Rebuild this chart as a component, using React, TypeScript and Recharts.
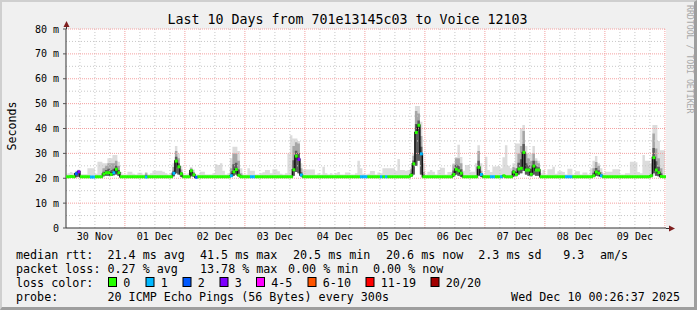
import { ComposedChart, Area, Line, XAxis, YAxis, CartesianGrid, ReferenceLine } from 'recharts';

// x values are hours since 30 Nov 00:00, one step per hour (h = 0..240)
const dayLabels = ['30 Nov', '01 Dec', '02 Dec', '03 Dec', '04 Dec', '05 Dec', '06 Dec', '07 Dec', '08 Dec', '09 Dec'];
const labelHours = [12, 36, 60, 84, 108, 132, 156, 180, 204, 228];
const yTicks = [0, 10, 20, 30, 40, 50, 60, 70, 80];

// median rtt in ms, one row per day
const medianRtt = [
  20.6, 20.6, 20.7, 20.6, 21.8, 22.6, 20.6, 20.6, 20.6, 20.6, 20.5, 20.5, 20.6, 20.6, 20.6, 21.7, 22.2, 22.2, 21.5, 22.2, 23.6, 22.2, 20.6, 20.6,
  20.6, 20.6, 20.6, 20.6, 20.6, 20.6, 20.6, 20.6, 20.5, 20.6, 20.6, 20.6, 20.6, 20.6, 20.6, 20.6, 20.6, 20.6, 20.6, 22.0, 26.9, 24.6, 21.8, 20.6,
  20.6, 20.6, 23.0, 21.4, 20.4, 20.6, 20.6, 20.6, 20.6, 20.6, 20.6, 20.6, 20.6, 20.6, 20.6, 20.6, 20.6, 20.6, 21.0, 22.6, 23.5, 21.2, 20.6, 20.6,
  20.6, 20.6, 20.6, 20.6, 20.6, 20.6, 20.6, 20.6, 20.6, 20.6, 20.6, 20.6, 20.6, 20.6, 20.6, 20.6, 20.6, 20.6, 20.6, 23.4, 28.9, 27.6, 21.3, 20.6,
  20.6, 20.6, 20.6, 20.6, 20.6, 20.6, 20.6, 20.6, 20.6, 20.6, 20.6, 20.6, 20.6, 20.6, 20.6, 20.6, 20.6, 20.6, 20.6, 20.6, 20.6, 20.6, 20.6, 20.6,
  20.6, 20.6, 20.6, 20.6, 20.6, 20.6, 20.6, 20.6, 20.6, 20.6, 20.6, 20.6, 20.6, 20.6, 20.6, 20.6, 20.6, 20.6, 21.2, 25.8, 38.4, 41.3, 29.8, 20.6,
  20.6, 20.6, 20.6, 20.6, 20.6, 20.6, 20.6, 20.6, 20.6, 20.6, 20.6, 21.5, 23.6, 23.0, 22.0, 20.6, 20.6, 20.6, 20.6, 20.6, 20.6, 24.4, 21.5, 20.6,
  20.6, 20.6, 20.6, 20.6, 20.6, 20.6, 20.6, 21.0, 20.6, 20.6, 20.6, 22.5, 21.5, 23.7, 24.0, 30.4, 23.3, 23.3, 21.6, 24.9, 23.3, 23.3, 20.6, 20.6,
  20.6, 20.6, 20.6, 20.6, 20.6, 20.6, 20.6, 20.6, 20.6, 20.6, 20.6, 20.6, 20.6, 20.6, 20.6, 20.6, 20.6, 20.6, 20.6, 21.0, 22.5, 22.0, 21.0, 20.6,
  20.6, 20.6, 20.6, 20.6, 20.6, 20.6, 20.6, 20.6, 20.6, 20.6, 20.6, 20.6, 20.6, 20.6, 20.6, 20.6, 20.6, 20.6, 21.0, 28.3, 23.3, 22.3, 20.7, 20.6,
  20.6,
];

// lost pings out of 20
const lossCount = [
  0, 0, 0, 0, 2, 3, 0, 0, 0, 0, 1, 1, 0, 0, 0, 0, 0, 0, 0, 1, 0, 0, 0, 0,
  0, 0, 0, 0, 0, 0, 0, 0, 1, 0, 0, 0, 0, 0, 0, 0, 0, 0, 0, 1, 0, 0, 0, 0,
  0, 0, 0, 0, 2, 0, 0, 0, 0, 0, 0, 0, 0, 0, 0, 0, 0, 0, 1, 0, 0, 0, 0, 0,
  0, 0, 1, 1, 0, 0, 0, 0, 0, 0, 0, 0, 0, 0, 0, 0, 0, 0, 0, 0, 0, 3, 1, 0,
  0, 0, 0, 0, 0, 0, 0, 0, 0, 0, 0, 0, 0, 0, 0, 0, 0, 0, 0, 0, 0, 0, 1, 1,
  1, 0, 0, 0, 0, 0, 1, 0, 1, 0, 0, 0, 0, 0, 0, 0, 0, 0, 0, 0, 0, 0, 1, 0,
  0, 0, 0, 0, 0, 0, 0, 0, 0, 0, 0, 0, 0, 0, 0, 0, 0, 0, 0, 0, 0, 0, 1, 0,
  0, 0, 1, 1, 0, 0, 1, 0, 0, 0, 0, 0, 0, 0, 0, 0, 0, 0, 0, 0, 0, 0, 0, 0,
  0, 0, 0, 0, 0, 0, 0, 0, 1, 1, 1, 0, 0, 0, 0, 0, 0, 0, 0, 0, 0, 0, 1, 0,
  0, 0, 0, 0, 0, 0, 0, 0, 0, 0, 0, 0, 0, 0, 0, 0, 0, 0, 0, 0, 0, 0, 0, 0,
  0,
];

// slowest ping of each step (outer smoke)
const maxRtt = [
  21.5, 22.0, 22.5, 22.0, 23.0, 23.5, 21.6, 21.6, 21.6, 24.0, 24.0, 24.0, 21.8, 26.6, 26.6, 26.0, 26.0, 28.0, 28.0, 29.3, 29.3, 26.6, 22.5, 21.5,
  21.5, 22.6, 22.6, 21.8, 21.5, 22.2, 22.2, 21.5, 22.5, 21.5, 22.0, 23.0, 23.0, 23.0, 23.0, 22.6, 22.0, 21.5, 22.0, 26.0, 33.0, 30.0, 25.0, 21.5,
  21.5, 22.0, 24.5, 23.5, 21.5, 21.5, 22.6, 22.6, 21.5, 21.5, 21.5, 22.0, 25.6, 25.3, 26.0, 23.0, 21.5, 22.0, 28.0, 32.7, 32.7, 31.0, 24.0, 21.5,
  21.5, 24.0, 23.0, 23.0, 21.5, 21.5, 22.0, 22.4, 23.3, 23.3, 22.0, 23.6, 23.6, 22.8, 21.8, 21.5, 22.0, 30.0, 37.3, 36.0, 36.0, 35.0, 26.0, 23.5,
  23.5, 23.5, 23.5, 23.5, 21.5, 22.0, 21.5, 24.6, 22.0, 21.5, 22.0, 21.5, 22.0, 22.5, 21.5, 21.5, 22.3, 22.3, 21.5, 21.5, 22.0, 27.0, 24.0, 21.8,
  21.5, 21.8, 22.9, 22.9, 21.5, 22.3, 22.0, 24.0, 24.0, 24.0, 24.0, 24.0, 23.0, 27.7, 23.3, 23.3, 23.0, 23.3, 24.0, 30.0, 49.0, 49.0, 42.7, 26.0,
  21.5, 22.6, 23.3, 22.6, 21.5, 23.3, 24.2, 24.2, 21.5, 22.5, 22.5, 26.0, 28.5, 33.5, 28.5, 23.0, 25.3, 25.3, 22.6, 22.6, 26.0, 33.3, 26.0, 21.5,
  28.6, 23.3, 22.5, 24.7, 24.7, 24.9, 24.0, 28.4, 33.3, 25.0, 24.0, 26.0, 34.0, 34.0, 40.0, 41.4, 33.0, 30.0, 30.0, 33.0, 28.0, 27.0, 22.0, 23.3,
  21.5, 23.6, 23.6, 24.6, 21.8, 22.8, 22.8, 22.5, 21.5, 23.8, 23.8, 21.5, 22.8, 22.8, 21.5, 22.3, 22.3, 21.5, 24.0, 27.0, 28.9, 26.0, 24.0, 22.0,
  22.6, 22.6, 22.6, 23.6, 23.6, 23.6, 21.5, 21.5, 22.0, 22.0, 26.6, 26.6, 26.4, 22.5, 22.0, 29.3, 27.0, 27.0, 26.0, 41.4, 41.4, 35.0, 31.3, 31.3,
  31.3,
];

// dense smoke around the median on the busier steps
const coreHours = [4, 5, 15, 16, 17, 18, 19, 20, 21, 32, 43, 44, 45, 46, 50, 51, 66, 67, 68, 69, 70, 91, 92, 93, 94, 138, 139, 140, 141, 142, 143, 155, 156, 157, 158, 165, 166, 179, 180, 181, 182, 183, 184, 185, 186, 187, 188, 189, 211, 212, 213, 214, 235, 236, 237, 238];
const coreLow = [20.4, 20.6, 20.8, 21.0, 21.0, 21.0, 21.2, 21.5, 21.0, 20.6, 20.8, 22.0, 21.5, 20.6, 20.8, 20.6, 20.6, 21.0, 21.5, 20.8, 20.6, 21.0, 22.5, 22.0, 20.8, 20.6, 21.5, 25.0, 27.0, 21.5, 20.6, 20.6, 21.5, 21.0, 20.6, 21.0, 20.6, 20.6, 20.8, 21.5, 22.0, 23.0, 21.5, 21.0, 20.8, 21.5, 21.0, 21.0, 20.6, 21.0, 20.8, 20.6, 22.0, 21.0, 20.8, 20.6];
const coreHigh = [22.5, 23.2, 24.0, 25.0, 26.0, 26.0, 26.0, 27.0, 25.0, 22.0, 24.5, 31.0, 28.0, 23.5, 24.0, 22.5, 24.0, 30.0, 30.0, 27.0, 22.0, 33.0, 34.5, 34.0, 24.0, 23.5, 29.0, 47.0, 46.0, 37.0, 22.5, 25.5, 28.0, 28.0, 26.0, 31.0, 23.0, 24.5, 24.0, 30.0, 33.0, 39.0, 30.0, 28.0, 27.0, 30.0, 27.0, 26.0, 24.0, 26.5, 25.0, 22.5, 38.0, 32.0, 28.0, 24.0];
const innerHigh = [22.2, 23.0, 22.6, 23.3, 23.8, 23.3, 23.8, 25.0, 23.3, 21.2, 23.0, 28.6, 26.0, 22.5, 23.5, 21.9, 22.2, 25.6, 26.2, 23.5, 21.2, 27.2, 31.1, 30.2, 22.4, 22.1, 27.1, 41.8, 43.2, 32.7, 21.4, 23.1, 25.4, 25.0, 23.6, 27.0, 22.1, 23.3, 22.5, 26.2, 27.6, 33.8, 26.0, 25.2, 23.8, 27.0, 24.8, 24.4, 22.2, 24.1, 23.2, 21.6, 32.2, 26.8, 24.6, 22.0];

const SMOKE_FLOOR = 20.2;
const STEP_PX = 2.5;

const lossBuckets = [
  { label: '0', color: '#26ff00', x: 108 },
  { label: '1', color: '#00b8ff', x: 145.5 },
  { label: '2', color: '#0059ff', x: 182.5 },
  { label: '3', color: '#7e00ff', x: 219.5 },
  { label: '4-5', color: '#ff00ff', x: 256 },
  { label: '6-10', color: '#ff5500', x: 307.5 },
  { label: '11-19', color: '#ff0000', x: 365.5 },
  { label: '20/20', color: '#a10000', x: 430.5 },
];

const lossColor = (n: number) => {
  if (n <= 0) return lossBuckets[0].color;
  if (n <= 3) return lossBuckets[n].color;
  if (n <= 5) return lossBuckets[4].color;
  if (n <= 10) return lossBuckets[5].color;
  if (n <= 19) return lossBuckets[6].color;
  return lossBuckets[7].color;
};

const data = medianRtt.map((m, h) => {
  const ci = coreHours.indexOf(h);
  return {
    h,
    median: m,
    loss: lossCount[h],
    smoke: [ci >= 0 ? coreLow[ci] : SMOKE_FLOOR, maxRtt[h]],
    core: ci >= 0 ? [coreLow[ci], coreHigh[ci]] : [m, m],
    inner: ci >= 0 ? [coreLow[ci], innerHigh[ci]] : [m, m],
  };
});

const gridHours = Array.from({ length: 40 }, (_, i) => (i + 1) * 6);
const gridValues = [5, 10, 15, 20, 25, 30, 35, 40, 45, 50, 55, 60, 65, 70, 75, 80];

const MONO = 'DejaVu Sans Mono';
const tickStyle = { fontFamily: MONO, fontSize: 10, fill: '#000' };

const LossDot = (p: any) => {
  const { cx, cy, payload, index } = p;
  if (cx == null || cy == null) return <g key={`d${index}`} />;
  return (
    <rect key={`d${index}`} x={cx} y={cy - 1.5} width={STEP_PX + 0.4} height={3} fill={lossColor(payload.loss)} />
  );
};

const Overlay = () => (
  <svg width={697} height={310} style={{ position: 'absolute', left: 0, top: 0, pointerEvents: 'none' }} fontFamily={MONO}>
    {/* axis extensions and arrows */}
    <line x1={66.5} y1={24} x2={66.5} y2={29} stroke="#333" />
    <polygon points="63.5,27 69.5,27 66.5,21" fill="#7f1f1f" />
    <line x1={666} y1={228.5} x2={671} y2={228.5} stroke="#333" />
    <polygon points="669,225.5 669,231.5 675,228.5" fill="#7f1f1f" />

    <text x={347.5} y={24} fontSize={13.3} textAnchor="middle">Last 10 Days from 701e13145c03 to Voice 12103</text>
    <text transform="translate(15.5,126) rotate(-90)" fontSize={11.6} textAnchor="middle">Seconds</text>
    <text transform="translate(687,5) rotate(90)" fontSize={8.2} fill="#a8a8a8">RRDTOOL / TOBI OETIKER</text>

    <g fontSize={11.7} style={{ whiteSpace: 'pre' }}>
      <text x={16} y={258.5}>median rtt:</text>
      <text x={107.5} y={258.5}>21.4 ms avg</text>
      <text x={200} y={258.5}>41.5 ms max</text>
      <text x={293} y={258.5}>20.5 ms min</text>
      <text x={386} y={258.5}>20.6 ms now</text>
      <text x={478.3} y={258.5}>2.3 ms sd</text>
      <text x={563.3} y={258.5}>9.3</text>
      <text x={600} y={258.5}>am/s</text>

      <text x={16} y={272.5}>packet loss:</text>
      <text x={107.5} y={272.5}>0.27 % avg</text>
      <text x={200} y={272.5}>13.78 % max</text>
      <text x={288} y={272.5}>0.00 % min</text>
      <text x={373} y={272.5}>0.00 % now</text>

      <text x={16} y={286.5}>loss color:</text>
      {lossBuckets.map((b) => (
        <g key={b.label}>
          <rect x={b.x + 0.5} y={277.5} width={8} height={9} fill={b.color} stroke="#000" />
          <text x={b.x + 15.3} y={286.5}>{b.label}</text>
        </g>
      ))}

      <text x={16} y={300.5}>probe:</text>
      <text x={107.5} y={300.5}>20 ICMP Echo Pings (56 Bytes) every 300s</text>
      <text x={680} y={300.5} textAnchor="end">Wed Dec 10 00:26:37 2025</text>
    </g>
  </svg>
);

export default function App() {
  return (
    <div style={{ position: 'relative', width: 697, height: 310, background: '#f0f0f0' }}>
      <style>{'body{margin:0}'}</style>
      <div style={{ position: 'absolute', left: 0, top: 0 }}>
        <ComposedChart width={697} height={310} data={data} margin={{ top: 29, right: 31, bottom: 62, left: 0 }}>
          <CartesianGrid fill="#ffffff" fillOpacity={1} horizontal={false} vertical={false} />
          <XAxis
            dataKey="h"
            type="number"
            domain={[0.44, 240.44]}
            allowDataOverflow
            ticks={labelHours}
            tickFormatter={(v: number) => dayLabels[labelHours.indexOf(v)] ?? ''}
            tick={tickStyle}
            tickLine={false}
            tickSize={0}
            tickMargin={5}
            height={20}
            axisLine={{ stroke: '#333' }}
          />
          <YAxis
            type="number"
            domain={[0, 80]}
            ticks={yTicks}
            tickFormatter={(v: number) => (v === 0 ? '0' : `${v} m`)}
            tick={tickStyle}
            tickLine={{ stroke: '#555' }}
            tickSize={3}
            tickMargin={4}
            width={66}
            axisLine={{ stroke: '#333' }}
          />
          <Area dataKey="smoke" type="stepAfter" stroke="none" fill="#dcdcdc" fillOpacity={1} isAnimationActive={false} />
          <Area dataKey="core" type="stepAfter" stroke="none" fill="#a6a6a6" fillOpacity={1} isAnimationActive={false} />
          <Area dataKey="inner" type="stepAfter" stroke="none" fill="#5c5c5c" fillOpacity={1} isAnimationActive={false} />
          {gridHours.map((h) => (
            <ReferenceLine key={`vx${h}`} x={h} stroke={h % 24 === 0 ? '#f4a0a0' : '#c8c8c8'} strokeDasharray={h % 24 === 0 ? '1 1' : '1 2'} />
          ))}
          {gridValues.map((v) => (
            <ReferenceLine key={`hy${v}`} y={v} stroke={v % 10 === 0 ? '#f4a0a0' : '#c8c8c8'} strokeDasharray={v % 10 === 0 ? '1 1' : '1 2'} />
          ))}
          <Line
            dataKey="median"
            type="stepAfter"
            stroke="#111"
            strokeWidth={1.5}
            dot={LossDot}
            activeDot={false}
            isAnimationActive={false}
          />
        </ComposedChart>
      </div>
      <div
        style={{
          position: 'absolute', left: 0, top: 0, width: 697, height: 310, boxSizing: 'border-box', pointerEvents: 'none',
          borderTop: '2px solid #cfcfcf', borderLeft: '2px solid #cfcfcf', borderRight: '3px solid #9e9e9e', borderBottom: '3px solid #9e9e9e',
        }}
      />
      <Overlay />
    </div>
  );
}
